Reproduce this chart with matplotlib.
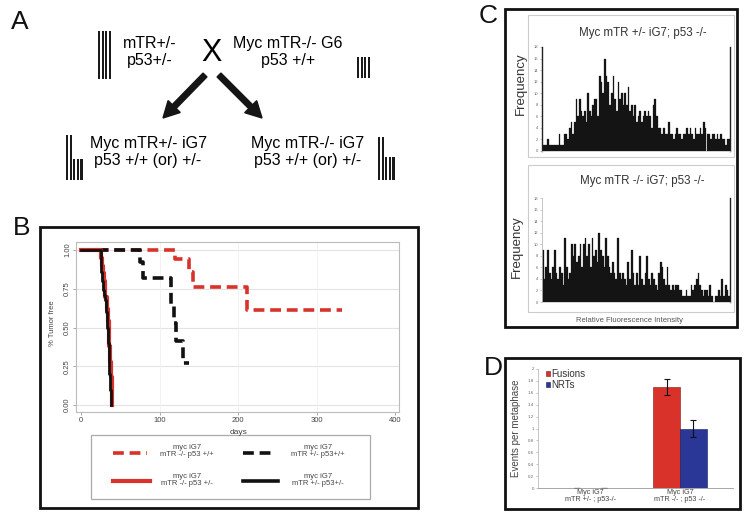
import numpy as np
import matplotlib
matplotlib.use('Agg')
import matplotlib.pyplot as plt
from matplotlib.patches import Rectangle, FancyArrow

plt.rcParams['font.family'] = ['Liberation Sans', 'DejaVu Sans']

W, H = 746, 523

# ---------------- data ----------------
# Panel B: survival curves (days, fraction tumor free)
km_red_dash_t = [0, 120, 138, 143, 212, 332]
km_red_dash_s = [1.00, 0.94, 0.86, 0.76, 0.61, 0.61]
km_blk_dash_t = [0, 75, 79, 115, 118, 121, 130, 137]
km_blk_dash_s = [1.00, 0.92, 0.82, 0.65, 0.53, 0.41, 0.27, 0.27]
km_red_solid_t = [0, 26, 27, 28, 29, 30, 31, 33, 34, 35, 36, 37, 38, 39, 40]
km_red_solid_s = [1.0, 0.95, 0.90, 0.85, 0.80, 0.75, 0.70, 0.62, 0.54, 0.46, 0.38, 0.28, 0.18, 0.08, 0.0]
km_blk_solid_t = [0, 25, 26, 27, 28, 29, 31, 32, 33, 34, 35, 36, 37, 38]
km_blk_solid_s = [1.0, 0.93, 0.86, 0.80, 0.74, 0.71, 0.68, 0.60, 0.50, 0.40, 0.30, 0.20, 0.10, 0.0]
b_xticks = [0, 100, 200, 300, 400]
b_yticks = [0.00, 0.25, 0.50, 0.75, 1.00]
b_legend_labels = ["myc iG7\nmTR -/- p53 +/+", "myc iG7\nmTR +/- p53+/+",
                   "myc iG7\nmTR -/- p53 +/-", "myc iG7\nmTR +/- p53+/-"]

# Panel C: fluorescence intensity histograms (counts per bin)
hist_top = [1, 1, 1, 2, 1, 1, 1, 1, 1, 1, 3, 1, 1, 3, 3, 2, 4, 5, 3, 5,
            9, 6, 9, 7, 6, 7, 5, 10, 7, 6, 8, 9, 9, 6, 13, 12, 10, 16, 13, 12,
            8, 10, 13, 9, 7, 12, 9, 10, 8, 10, 8, 11, 7, 8, 6, 8, 5, 6, 7, 5,
            6, 7, 6, 7, 6, 4, 8, 9, 6, 4, 4, 3, 4, 3, 3, 5, 3, 3, 2, 3,
            4, 3, 3, 2, 3, 3, 4, 3, 4, 3, 2, 4, 3, 3, 4, 3, 5, 4, 3, 3,
            2, 3, 3, 2, 3, 2, 3, 2, 2, 1, 2, 2]
hist_bot = [9, 4, 6, 9, 5, 4, 6, 9, 5, 4, 6, 5, 3, 11, 6, 4, 5, 10, 8, 10,
            7, 8, 10, 6, 10, 11, 8, 10, 6, 11, 8, 9, 7, 12, 9, 8, 6, 11, 8, 6,
            5, 7, 5, 4, 11, 5, 4, 5, 4, 3, 7, 4, 9, 5, 3, 5, 3, 8, 4, 3,
            5, 8, 4, 3, 5, 4, 3, 2, 5, 7, 6, 4, 3, 6, 3, 2, 3, 2, 3, 3,
            2, 2, 1, 1, 2, 1, 1, 3, 2, 3, 4, 5, 3, 2, 1, 2, 2, 1, 3, 1,
            0, 1, 1, 2, 1, 4, 1, 3, 2, 1]
c_yticks = [0, 2, 4, 6, 8, 10, 12, 14, 16, 18]

# Panel D: events per metaphase
d_groups = ["Myc iG7\nmTR +/- ; p53-/-", "Myc iG7\nmTR -/- ; p53 -/-"]
d_fusions = [0.0, 1.70]
d_fusions_err = [0.0, 0.13]
d_nrts = [0.0, 1.00]
d_nrts_err = [0.0, 0.15]
d_yticks = [0, 0.2, 0.4, 0.6, 0.8, 1.0, 1.2, 1.4, 1.6, 1.8, 2.0]
d_yticklabels = ["0", "0.2", "0.4", "0.6", "0.8", "1", "1.2", "1.4", "1.6", "1.8", "2"]

RED = '#d8322b'
BLUE = '#2a3796'


def rect_px(x0, y0, x1, y1):
    return [x0 / W, 1 - y1 / H, (x1 - x0) / W, (y1 - y0) / H]


fig = plt.figure(figsize=(W / 100, H / 100), dpi=100)
fig.patch.set_facecolor('white')

# ---------------- Panel B ----------------
axB = fig.add_axes(rect_px(76, 242, 399, 412))
axB.set_xlim(-6.4, 405)
axB.set_ylim(-0.045, 1.052)
for v in b_yticks:
    axB.axhline(v, color='#e3e3e3', lw=0.8, zorder=0)
for v in b_xticks[1:4]:
    axB.axvline(v, color='#f0f0f0', lw=0.6, zorder=0)
dash = (0, (3.0, 1.6))
axB.step(km_red_dash_t, km_red_dash_s, where='post', color=RED, lw=2.6, linestyle=dash)
axB.step(km_blk_dash_t, km_blk_dash_s, where='post', color='#111111', lw=2.6, linestyle=dash)
axB.step(km_red_solid_t, km_red_solid_s, where='post', color=RED, lw=3.0)
axB.step(km_blk_solid_t, km_blk_solid_s, where='post', color='#111111', lw=2.0)
axB.set_xticks(b_xticks)
axB.set_xticklabels([str(v) for v in b_xticks], fontsize=5.5, color='#444444')
axB.set_yticks(b_yticks)
axB.set_yticklabels(["%.2f" % v for v in b_yticks], fontsize=5.5, color='#444444',
                    rotation=90, va='center')
axB.tick_params(length=2, width=0.5, color='#888888', pad=1.5)
for s in axB.spines.values():
    s.set_color('#bbbbbb')
    s.set_linewidth(0.8)

# ---------------- Panel C ----------------
def hist_axes(rect, counts, left_dark):
    ax = fig.add_axes(rect)
    n = len(counts)
    ax.bar(np.arange(n), counts, width=1.0, color='#141414', edgecolor='#141414', linewidth=0.2)
    ax.set_xlim(-0.5, n - 0.5)
    ax.set_ylim(0, 18)
    ax.set_xticks([])
    ax.set_yticks(c_yticks)
    ax.set_yticklabels([str(v) for v in c_yticks], fontsize=3, color='#666666')
    ax.tick_params(axis='y', length=1.5, width=0.4, color='#999999', pad=1.5)
    ax.spines['top'].set_visible(False)
    ax.spines['bottom'].set_color('#cccccc')
    ax.spines['bottom'].set_linewidth(0.6)
    ax.spines['right'].set_color('#222222')
    ax.spines['right'].set_linewidth(1.0)
    ax.spines['left'].set_color('#222222' if left_dark else '#bbbbbb')
    ax.spines['left'].set_linewidth(1.0 if left_dark else 0.6)
    ax.patch.set_alpha(0)
    return ax

hist_axes(rect_px(542, 47, 730, 151), hist_top, True)
hist_axes(rect_px(542, 198, 730, 302), hist_bot, False)

# ---------------- Panel D ----------------
axD = fig.add_axes(rect_px(538, 369, 733, 488))
xg = np.arange(len(d_groups))
bw = 0.30
axD.bar(xg - bw / 2, d_fusions, width=bw, color=RED, edgecolor='#7a1a16', linewidth=0.4,
        yerr=d_fusions_err, capsize=2.5, error_kw=dict(ecolor='#111111', elinewidth=0.8, capthick=0.8),
        label='Fusions')
axD.bar(xg + bw / 2, d_nrts, width=bw, color=BLUE, edgecolor='#161d55', linewidth=0.4,
        yerr=d_nrts_err, capsize=2.5, error_kw=dict(ecolor='#111111', elinewidth=0.8, capthick=0.8),
        label='NRTs')
axD.set_xlim(-0.58, 1.59)
axD.set_ylim(0, 2.0)
axD.set_yticks(d_yticks)
axD.set_yticklabels(d_yticklabels, fontsize=3.2, color='#666666')
axD.set_xticks(xg)
axD.set_xticklabels(d_groups, fontsize=5.2, color='#444444', linespacing=0.9)
axD.tick_params(axis='y', length=1.5, width=0.4, color='#999999', pad=1.5)
axD.tick_params(axis='x', length=0, pad=1)
for k in ['top', 'right']:
    axD.spines[k].set_visible(False)
axD.spines['left'].set_color('#bbbbbb')
axD.spines['left'].set_linewidth(0.6)
axD.spines['bottom'].set_color('#999999')
axD.spines['bottom'].set_linewidth(0.6)
axD.set_ylabel('Events per metaphase', fontsize=7, color='#444444', labelpad=5)
leg = axD.legend(loc='upper left', bbox_to_anchor=(0.02, 1.03), fontsize=7, frameon=False,
                 handlelength=0.45, handleheight=0.45, handletextpad=0.15, labelspacing=0.05,
                 borderaxespad=0)
for t in leg.get_texts():
    t.set_color('#333333')

# ---------------- overlay (panel A, labels, frames) ----------------
ov = fig.add_axes([0, 0, 1, 1])
ov.set_xlim(0, W)
ov.set_ylim(H, 0)
ov.axis('off')
ov.patch.set_alpha(0)

# panel letters
for lab, (x, y) in {'A': (20, 22), 'B': (22, 228), 'C': (488, 16), 'D': (493, 368)}.items():
    ov.text(x, y, lab, fontsize=19, ha='center', va='center', color='#111111')

# Panel A text
fa = 11.5
ov.text(150, 52, "mTR+/-\np53+/-", fontsize=fa, ha='center', va='center', linespacing=1.1)
ov.text(211, 53, "X", fontsize=22, ha='center', va='center')
ov.text(288, 52, "Myc mTR-/- G6\np53 +/+", fontsize=fa, ha='center', va='center', linespacing=1.1)
ov.text(148, 152, "Myc mTR+/- iG7\np53 +/+ (or) +/-", fontsize=fa, ha='center', va='center', linespacing=1.1)
ov.text(308, 152, "Myc mTR-/- iG7\np53 +/+ (or) +/-", fontsize=fa, ha='center', va='center', linespacing=1.1)

# arrows
ov.add_patch(FancyArrow(205, 75, -42, 43, width=5.5, head_width=17, head_length=16,
                        length_includes_head=True, color='#151515'))
ov.add_patch(FancyArrow(219, 75, 43, 43, width=5.5, head_width=17, head_length=16,
                        length_includes_head=True, color='#151515'))

# chromosome glyphs
def bars(x0, y0, y1, n, w=2.2, gap=1.4):
    for i in range(n):
        ov.add_patch(Rectangle((x0 + i * (w + gap), y0), w, y1 - y0, color='#1a1a1a', lw=0))

bars(98, 31, 79, 4)
bars(357, 57, 78, 4)
bars(66, 135, 180, 2)
bars(73.2, 159, 180, 3)
bars(378, 137, 180, 2)
bars(385.2, 157, 180, 3)

# Panel B frame, labels, legend
ov.add_patch(Rectangle((40, 227), 378, 281, fill=False, ec='#111111', lw=2.0))
ov.text(53, 323, "% Tumor free", fontsize=5.5, rotation=90, ha='center', va='center', color='#444444')
ov.text(238, 432, "days", fontsize=6, ha='center', va='center', color='#444444')
ov.add_patch(Rectangle((91, 435), 279, 64, fill=False, ec='#aaaaaa', lw=0.9))
ov.plot([113, 147], [453, 453], color=RED, lw=2.6, linestyle=dash)
ov.plot([243, 275], [453, 453], color='#111111', lw=2.6, linestyle=dash)
ov.plot([113, 150], [481, 481], color=RED, lw=3.0)
ov.plot([243, 278], [481, 481], color='#111111', lw=2.6)
for (x, y), lab in zip([(187, 451), (318, 451), (187, 480), (318, 480)], b_legend_labels):
    ov.text(x, y, lab, fontsize=5.5, ha='center', va='center', color='#444444', linespacing=1.05)

# Panel C frames and text
ov.add_patch(Rectangle((505, 9), 232, 318, fill=False, ec='#111111', lw=2.0))
ov.add_patch(Rectangle((528, 15), 206, 142, fill=False, ec='#cccccc', lw=0.8))
ov.add_patch(Rectangle((528, 165), 206, 147, fill=False, ec='#cccccc', lw=0.8))
ov.text(643, 33, "Myc mTR +/- iG7; p53 -/-", fontsize=8.3, ha='center', va='center', color='#333333')
ov.text(642, 181, "Myc mTR -/- iG7; p53 -/-", fontsize=8.3, ha='center', va='center', color='#333333')
ov.text(521, 84, "Frequency", fontsize=9.5, rotation=90, ha='center', va='center', color='#333333')
ov.text(517, 247, "Frequency", fontsize=9.5, rotation=90, ha='center', va='center', color='#333333')
ov.text(630, 320, "Relative Fluorescence Intensity", fontsize=5.5, ha='center', va='center', color='#555555')

# Panel D frame
ov.add_patch(Rectangle((505, 358), 235, 151, fill=False, ec='#111111', lw=2.0))

fig.savefig('out.png', dpi=100, facecolor='white')
